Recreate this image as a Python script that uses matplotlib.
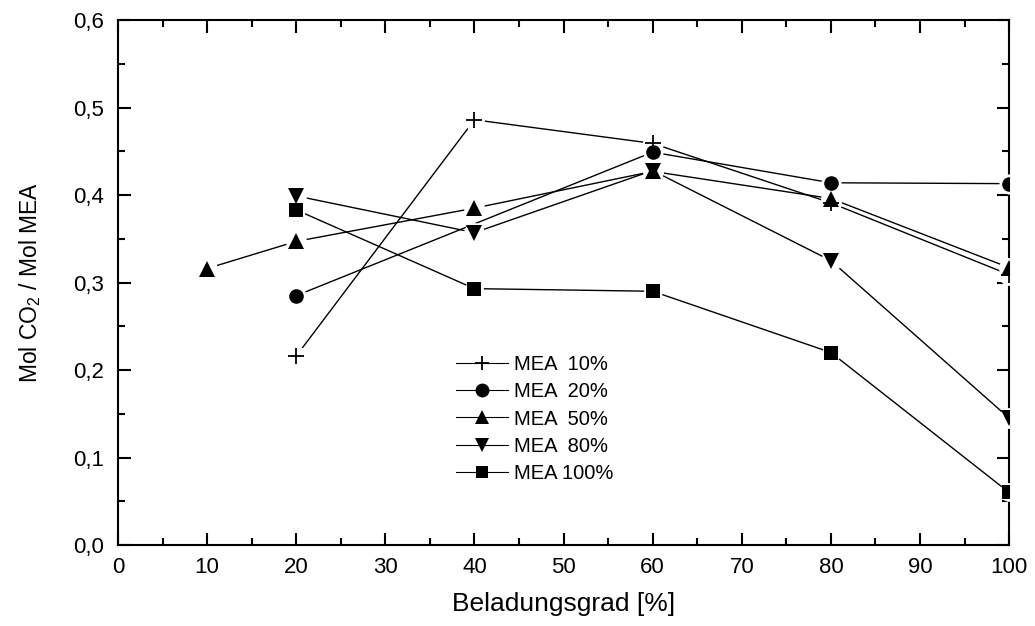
import matplotlib
matplotlib.use('Agg')
import matplotlib.pyplot as plt
from matplotlib.ticker import MultipleLocator, FuncFormatter

plt.rcParams['font.family'] = ['Liberation Sans', 'DejaVu Sans']
plt.rcParams['mathtext.fontset'] = 'custom'
plt.rcParams['mathtext.rm'] = 'Liberation Sans'
plt.rcParams['mathtext.it'] = 'Liberation Sans:italic'

# data
x_10 = [20, 40, 60, 80, 100]
y_10 = [0.216, 0.486, 0.459, 0.391, 0.309]
x_20 = [20, 60, 80, 100]
y_20 = [0.285, 0.449, 0.414, 0.413]
x_50 = [10, 20, 40, 60, 80, 100]
y_50 = [0.316, 0.347, 0.385, 0.427, 0.396, 0.317]
x_80 = [20, 40, 60, 80, 100]
y_80 = [0.399, 0.357, 0.428, 0.325, 0.145]
x_100 = [20, 40, 60, 80, 100]
y_100 = [0.383, 0.293, 0.290, 0.220, 0.060]

series = [
    (x_10, y_10, '+', 'MEA  10%', 11),
    (x_20, y_20, 'o', 'MEA  20%', 10.5),
    (x_50, y_50, '^', 'MEA  50%', 11),
    (x_80, y_80, 'v', 'MEA  80%', 11),
    (x_100, y_100, 's', 'MEA 100%', 9.5),
]

fig = plt.figure(figsize=(10.35, 6.26), dpi=100)
ax = fig.add_axes([0.114, 0.1294, 0.861, 0.8386])

for xs, ys, mk, lab, ms in series:
    ax.plot(xs, ys, '-', color='black', lw=1.0, zorder=2)
    # white halo so the lines stop short of the symbols
    ax.plot(xs, ys, 'o', color='white', ms=ms + 4, mew=0, zorder=3)
    ax.plot(xs, ys, mk, color='black', ms=ms, mew=1.3 if mk == '+' else 0, zorder=4)

# legend handles
handles = []
for xs, ys, mk, lab, ms in series:
    h, = ax.plot([], [], '-', marker=mk, color='black', lw=0.8,
                 ms=ms * 0.95, mew=1.3 if mk == '+' else 0, label=lab)
    handles.append(h)
leg = ax.legend(handles=handles, loc='upper left', bbox_to_anchor=(0.37, 0.378),
                frameon=False, fontsize=14.5, handlelength=2.6, handletextpad=0.3,
                labelspacing=0.42, borderaxespad=0)

ax.set_xlim(0, 100)
ax.set_ylim(0, 0.6)
ax.xaxis.set_major_locator(MultipleLocator(10))
ax.xaxis.set_minor_locator(MultipleLocator(5))
ax.yaxis.set_major_locator(MultipleLocator(0.1))
ax.yaxis.set_minor_locator(MultipleLocator(0.05))
ax.yaxis.set_major_formatter(FuncFormatter(lambda v, p: ('%.1f' % v).replace('.', ',')))

ax.tick_params(which='both', direction='in', top=True, right=True, width=1.5)
ax.tick_params(which='major', length=9, labelsize=16)
ax.tick_params(axis='x', which='major', pad=9)
ax.tick_params(axis='y', which='major', pad=10)
ax.tick_params(which='minor', length=5)
for sp in ax.spines.values():
    sp.set_linewidth(1.5)

ax.set_xlabel('Beladungsgrad [%]', fontsize=19, labelpad=10)
ax.set_ylabel('Mol CO$_2$ / Mol MEA', fontsize=16.5, labelpad=22)

fig.savefig('out.png', dpi=100)
